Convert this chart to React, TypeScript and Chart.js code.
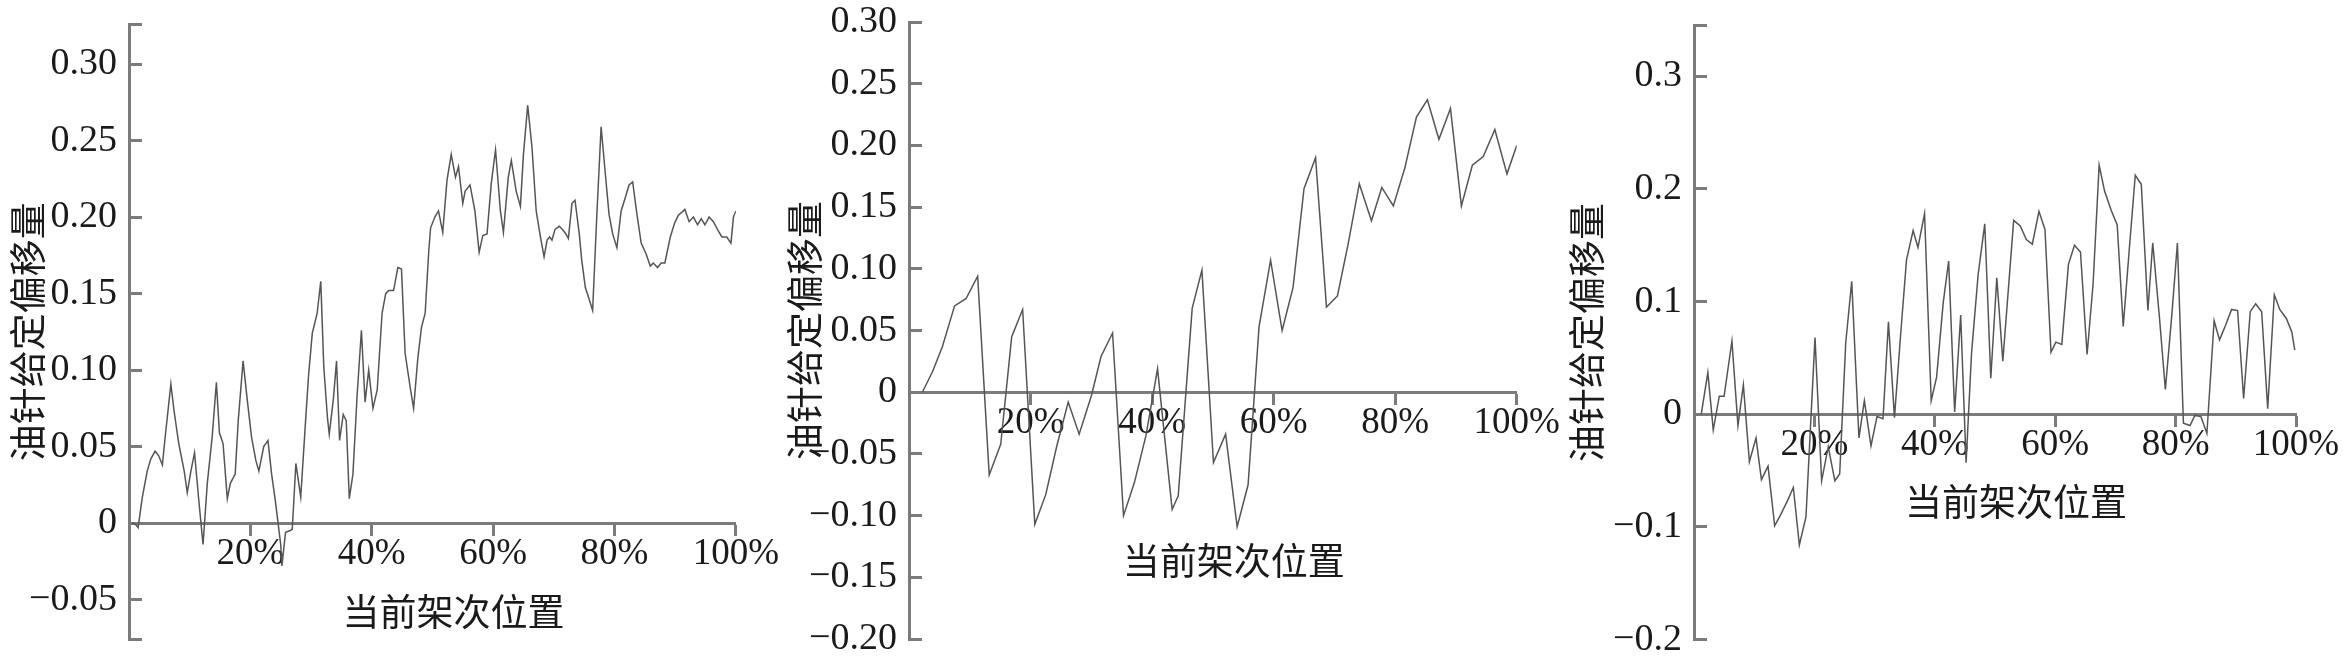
import React, { useEffect, useRef } from 'react';
import { Chart, registerables } from 'chart.js';

Chart.register(...registerables);

// ---------- shared axis data ----------
const X_TICKS = [0, 20, 40, 60, 80, 100];
const X_TICK_LABELS = ['', '20%', '40%', '60%', '80%', '100%'];
const X_TITLE = '当前架次位置';
const Y_TITLE = '油针给定偏移量';

// ---------- panel 1 ----------
const P1_X = [
  0.5, 1.1, 1.5, 2.2, 3.0, 3.6, 4.3, 4.9, 5.5, 5.9, 6.9, 7.4, 8.2, 9.1, 9.6, 10.2, 10.8, 11.5, 12.2, 12.9,
  13.7, 14.4, 14.9, 15.5, 16.2, 16.7, 17.5, 18.0, 18.8, 19.5, 20.2, 20.9, 21.4, 22.2, 22.9, 23.5, 24.1, 25.0, 25.2, 25.8,
  26.5, 26.9, 27.5, 28.3, 29.1, 29.6, 30.2, 31.0, 31.6, 32.1, 32.7, 33.0, 33.7, 34.2, 34.7, 35.3, 35.8, 36.3, 36.9, 37.6,
  38.3, 38.9, 39.5, 40.2, 40.9, 41.7, 42.3, 42.8, 43.6, 44.3, 44.9, 45.5, 46.4, 46.9, 47.6, 48.2, 48.8, 49.4, 49.7, 50.4,
  51.0, 51.7, 52.4, 53.1, 53.8, 54.3, 55.0, 55.4, 56.2, 57.0, 57.7, 58.3, 59.0, 59.7, 60.4, 61.2, 61.7, 62.5, 63.0, 63.8,
  64.5, 65.0, 65.7, 66.4, 67.1, 67.8, 68.4, 68.9, 69.3, 69.7, 70.2, 70.9, 71.4, 72.0, 72.4, 73.0, 73.5, 74.2, 74.6, 75.2,
  75.7, 76.4, 77.1, 77.8, 78.5, 79.1, 79.7, 80.4, 81.1, 81.8, 82.4, 83.0, 83.7, 84.4, 85.2, 85.9, 86.4, 87.1, 87.7, 88.3,
  89.2, 89.9, 90.5, 91.6, 92.3, 93.0, 93.7, 94.3, 94.9, 95.6, 96.3, 97.1, 97.7, 98.5, 99.2, 99.6, 100,
];
const P1_Y = [
  0, -0.001, -0.003, 0.017, 0.034, 0.042, 0.047, 0.044, 0.038, 0.054, 0.091, 0.074, 0.052, 0.034, 0.02, 0.034, 0.046, 0.015, -0.014, 0.026,
  0.056, 0.092, 0.059, 0.052, 0.016, 0.026, 0.032, 0.067, 0.106, 0.08, 0.056, 0.041, 0.034, 0.05, 0.054, 0.032, 0.015, -0.014, -0.028, -0.006,
  -0.005, -0.004, 0.039, 0.017, 0.067, 0.097, 0.124, 0.137, 0.158, 0.102, 0.069, 0.058, 0.082, 0.106, 0.054, 0.071, 0.067, 0.016, 0.032, 0.084,
  0.126, 0.079, 0.1, 0.075, 0.087, 0.137, 0.15, 0.152, 0.152, 0.167, 0.166, 0.111, 0.087, 0.075, 0.108, 0.128, 0.137, 0.178, 0.193, 0.2,
  0.204, 0.19, 0.224, 0.241, 0.226, 0.233, 0.209, 0.217, 0.221, 0.204, 0.177, 0.188, 0.189, 0.222, 0.244, 0.204, 0.19, 0.226, 0.237, 0.217,
  0.207, 0.241, 0.273, 0.246, 0.204, 0.187, 0.174, 0.185, 0.187, 0.185, 0.192, 0.194, 0.192, 0.189, 0.186, 0.209, 0.211, 0.189, 0.172, 0.154,
  0.148, 0.139, 0.202, 0.259, 0.228, 0.202, 0.189, 0.18, 0.204, 0.213, 0.221, 0.223, 0.202, 0.183, 0.176, 0.168, 0.17, 0.167, 0.17, 0.17,
  0.187, 0.196, 0.201, 0.205, 0.197, 0.2, 0.195, 0.199, 0.195, 0.2, 0.197, 0.191, 0.187, 0.187, 0.183, 0.2, 0.204,
];
const P1_Y_TICKS = [-0.076, -0.05, 0, 0.05, 0.1, 0.15, 0.2, 0.25, 0.3, 0.326];
const P1_Y_LABELS = ['', '−0.05', '0', '0.05', '0.10', '0.15', '0.20', '0.25', '0.30', ''];

// ---------- panel 2 ----------
const P2_X = [
  2.2, 3.9, 5.5, 7.5, 9.4, 11.3, 13.2, 15.1, 16.9, 18.7, 20.7, 22.5, 24.3, 26.2, 28.0, 30.0, 31.6, 33.5, 35.3, 37.1,
  39.0, 40.9, 43.3, 44.3, 46.6, 48.2, 50.1, 52.1, 54.0, 55.8, 57.6, 59.5, 61.4, 63.2, 65.0, 66.9, 68.7, 70.5, 72.3, 74.1,
  76.1, 77.8, 79.7, 81.6, 83.5, 85.3, 87.2, 89.1, 90.9, 92.7, 94.5, 96.4, 98.4, 100,
];
const P2_Y = [
  0, 0.017, 0.037, 0.07, 0.076, 0.094, -0.067, -0.042, 0.045, 0.067, -0.107, -0.083, -0.044, -0.008, -0.034, -0.003, 0.029, 0.048, -0.1, -0.073,
  -0.035, 0.019, -0.095, -0.084, 0.068, 0.099, -0.057, -0.034, -0.109, -0.075, 0.053, 0.107, 0.05, 0.085, 0.165, 0.19, 0.069, 0.078, 0.121, 0.169,
  0.139, 0.166, 0.151, 0.182, 0.223, 0.237, 0.205, 0.23, 0.151, 0.184, 0.191, 0.213, 0.177, 0.2,
];
const P2_Y_TICKS = [-0.2, -0.15, -0.1, -0.05, 0, 0.05, 0.1, 0.15, 0.2, 0.25, 0.3];
const P2_Y_LABELS = ['−0.20', '−0.15', '−0.10', '−0.05', '0', '0.05', '0.10', '0.15', '0.20', '0.25', '0.30'];

// ---------- panel 3 ----------
const P3_X = [
  1.2, 2.3, 3.2, 4.2, 5.0, 6.3, 7.3, 8.2, 9.2, 10.3, 11.2, 12.3, 13.4, 14.4, 15.5, 16.5, 17.5, 18.6, 20.1, 21.2,
  22.3, 23.4, 24.2, 25.2, 26.2, 27.4, 28.3, 29.4, 30.4, 31.4, 32.3, 33.3, 34.3, 35.3, 36.4, 37.2, 38.3, 39.4, 40.3, 41.4,
  42.3, 43.3, 44.3, 45.2, 46.1, 47.2, 48.3, 49.3, 50.3, 51.3, 53.1, 54.2, 55.2, 56.2, 57.3, 58.3, 59.3, 60.1, 61.1, 62.2,
  63.2, 64.2, 65.3, 66.3, 67.3, 68.2, 69.3, 70.3, 71.3, 72.3, 73.3, 74.3, 75.4, 76.2, 77.3, 78.3, 79.4, 80.3, 81.3, 82.4,
  83.2, 84.2, 85.2, 86.4, 87.3, 88.3, 89.3, 90.3, 91.3, 92.4, 93.3, 94.3, 95.3, 96.4, 97.3, 98.4, 99.3, 99.8,
];
const P3_Y = [
  0, 0.037, -0.014, 0.016, 0.016, 0.065, -0.01, 0.026, -0.042, -0.021, -0.058, -0.046, -0.099, -0.089, -0.077, -0.065, -0.116, -0.091, 0.068, -0.059,
  -0.029, -0.059, -0.053, 0.063, 0.118, -0.021, 0.012, -0.028, -0.002, -0.004, 0.082, -0.003, 0.069, 0.137, 0.163, 0.148, 0.178, 0.012, 0.033, 0.099,
  0.136, 0.002, 0.088, -0.043, 0.054, 0.124, 0.169, 0.032, 0.121, 0.047, 0.172, 0.167, 0.155, 0.151, 0.18, 0.164, 0.055, 0.064, 0.062, 0.133,
  0.15, 0.144, 0.053, 0.116, 0.221, 0.198, 0.181, 0.168, 0.078, 0.146, 0.212, 0.204, 0.092, 0.152, 0.087, 0.022, 0.09, 0.152, -0.008, -0.01,
  -0.001, -0.002, -0.017, 0.083, 0.066, 0.079, 0.093, 0.092, 0.014, 0.091, 0.098, 0.091, 0.005, 0.106, 0.093, 0.085, 0.073, 0.057,
];
const P3_Y_TICKS = [-0.2, -0.1, 0, 0.1, 0.2, 0.3, 0.345];
const P3_Y_LABELS = ['−0.2', '−0.1', '0', '0.1', '0.2', '0.3', ''];

// ---------- styles ----------
const AXIS_COLOR = '#7b7b7b';
const LINE_COLOR = '#555555';
const TEXT_COLOR = '#1a1a1a';
const TICK_FONT = { family: "'Liberation Serif', 'DejaVu Serif', serif", size: 38, lineHeight: 1 };
const X_TICK_FONT = { family: "'Liberation Serif', 'DejaVu Serif', serif", size: 37, lineHeight: 1 };
const CJK_FAMILY = "'Noto Sans CJK SC', sans-serif";
const CJK_SIZE = 37;

const CANVAS_W = 781;
const CANVAS_H = 820;
const CANVAS_TOP = -80;

type PanelSpec = {
  xs: number[];
  ys: number[];
  yMin: number;
  yMax: number;
  yTicks: number[];
  yLabels: string[];
  left: number;
  yWidth: number;
  padRight: number;
  padTop: number;
  padBottom: number;
  yTitlePad: number;
  xTitleDx: number;
  xTitleDy: number;
};

const PANELS: PanelSpec[] = [
  { xs: P1_X, ys: P1_Y, yMin: -0.076, yMax: 0.326, yTicks: P1_Y_TICKS, yLabels: P1_Y_LABELS,
    left: 0, yWidth: 129, padRight: 43, padTop: 104.3, padBottom: 100.6, yTitlePad: 9, xTitleDx: 21, xTitleDy: 89 },
  { xs: P2_X, ys: P2_Y, yMin: -0.2, yMax: 0.3, yTicks: P2_Y_TICKS, yLabels: P2_Y_LABELS,
    left: 781, yWidth: 128, padRight: 45.3, padTop: 102.1, padBottom: 101, yTitlePad: 5, xTitleDx: 21, xTitleDy: 169 },
  { xs: P3_X, ys: P3_Y, yMin: -0.2, yMax: 0.345, yTicks: P3_Y_TICKS, yLabels: P3_Y_LABELS,
    left: 1562, yWidth: 132, padRight: 47, padTop: 105.4, padBottom: 100.3, yTitlePad: 6, xTitleDx: 21, xTitleDy: 88 },
];

const xTitlePlugin = {
  id: 'xTitle',
  afterDraw(chart: any, _args: any, opts: any) {
    const { ctx, chartArea, scales } = chart;
    const y0 = scales.y.getPixelForValue(0);
    ctx.save();
    ctx.font = `${CJK_SIZE}px ${CJK_FAMILY}`;
    ctx.fillStyle = TEXT_COLOR;
    ctx.textAlign = 'center';
    ctx.textBaseline = 'middle';
    ctx.fillText(opts.text, (chartArea.left + chartArea.right) / 2 + opts.dx, y0 + opts.dy);
    ctx.restore();
  },
};

function Panel({ spec }: { spec: PanelSpec }) {
  const ref = useRef<HTMLCanvasElement>(null);
  useEffect(() => {
    if (!ref.current) return;
    const chart = new Chart(ref.current, {
      type: 'line',
      data: {
        datasets: [
          {
            data: spec.xs.map((x, i) => ({ x, y: spec.ys[i] })),
            borderColor: LINE_COLOR,
            borderWidth: 1.5,
            pointRadius: 0,
            tension: 0,
            fill: false,
          },
        ],
      },
      options: {
        responsive: false,
        animation: false,
        devicePixelRatio: 1,
        events: [],
        layout: { padding: { left: 0, right: spec.padRight, top: spec.padTop, bottom: spec.padBottom } },
        plugins: {
          legend: { display: false },
          tooltip: { enabled: false },
          xTitle: { text: X_TITLE, dx: spec.xTitleDx, dy: spec.xTitleDy },
        } as any,
        scales: {
          x: {
            type: 'linear',
            position: { y: 0 } as any,
            min: 0,
            max: 100,
            afterBuildTicks: (s: any) => {
              s.ticks = X_TICKS.map((v) => ({ value: v }));
            },
            ticks: {
              callback: (_v: any, i: number) => X_TICK_LABELS[i],
              font: X_TICK_FONT,
              color: TEXT_COLOR,
              padding: 2,
              maxRotation: 0,
              minRotation: 0,
              autoSkip: false,
            },
            grid: { display: true, drawOnChartArea: false, drawTicks: true, tickLength: 11, tickWidth: 3, tickColor: AXIS_COLOR },
            border: { display: true, color: AXIS_COLOR, width: 3 },
          },
          y: {
            type: 'linear',
            position: 'left',
            min: spec.yMin,
            max: spec.yMax,
            afterBuildTicks: (s: any) => {
              s.ticks = spec.yTicks.map((v) => ({ value: v }));
            },
            afterFit: (s: any) => {
              s.width = spec.yWidth;
            },
            ticks: {
              callback: (_v: any, i: number) => spec.yLabels[i],
              font: TICK_FONT,
              color: TEXT_COLOR,
              padding: 25,
              autoSkip: false,
            },
            grid: { display: true, drawOnChartArea: false, drawTicks: true, tickLength: -13, tickWidth: 3, tickColor: AXIS_COLOR },
            border: { display: true, color: AXIS_COLOR, width: 3 },
            title: {
              display: true,
              text: Y_TITLE,
              font: { family: CJK_FAMILY, size: CJK_SIZE, lineHeight: 1 },
              color: TEXT_COLOR,
              padding: { top: spec.yTitlePad, bottom: 0 },
            },
          },
        },
      },
      plugins: [xTitlePlugin],
    });
    return () => chart.destroy();
  }, [spec]);
  return (
    <canvas
      ref={ref}
      width={CANVAS_W}
      height={CANVAS_H}
      style={{ position: 'absolute', left: spec.left, top: CANVAS_TOP, width: CANVAS_W, height: CANVAS_H }}
    />
  );
}

export default function App() {
  return (
    <div
      style={{ position: 'fixed', left: 0, top: 0, width: 2343, height: 660, overflow: 'hidden', background: '#ffffff' }}
    >
      {PANELS.map((p, i) => (
        <Panel key={i} spec={p} />
      ))}
    </div>
  );
}
